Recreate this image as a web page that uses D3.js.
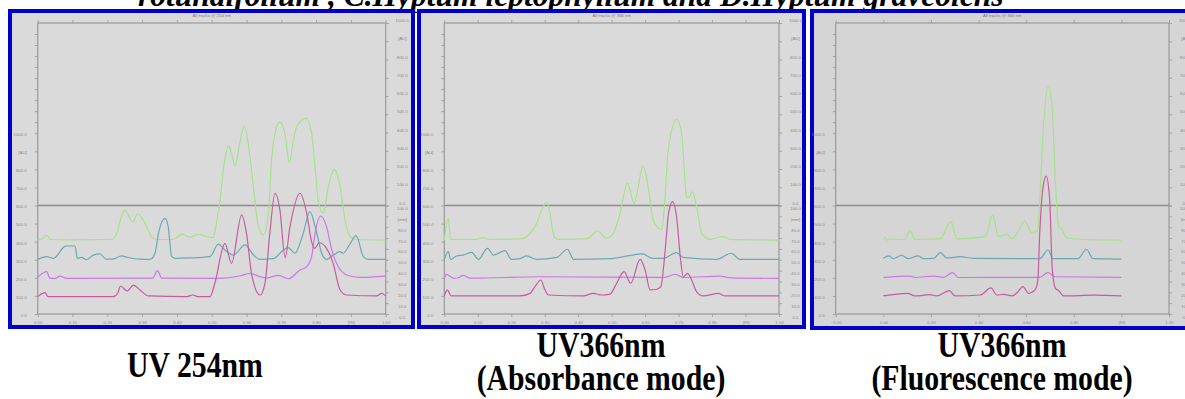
<!DOCTYPE html>
<html>
<head>
<meta charset="utf-8">
<script src="https://cdn.jsdelivr.net/npm/d3@7"></script>
<style>
  body { margin: 0; background: #fff; }
  svg { display: block; }
</style>
</head>
<body>
<script>
// ---- data: [Rf, AU] pairs (AU includes track offset) ----
var p1Green = [[0,410],[0.012,415],[0.026,437],[0.037,412],[0.07,410],[0.2,412],[0.216,415],[0.23,460],[0.239,530],[0.251,575],[0.262,540],[0.273,510],[0.287,553],[0.3,530],[0.313,483],[0.328,425],[0.342,412],[0.389,412],[0.417,442],[0.438,424],[0.46,440],[0.486,428],[0.504,422],[0.515,520],[0.524,630],[0.535,820],[0.548,931],[0.558,880],[0.567,820],[0.579,930],[0.594,1041],[0.61,870],[0.624,630],[0.634,483],[0.648,437],[0.663,557],[0.672,852],[0.682,1000],[0.696,1064],[0.711,990],[0.723,837],[0.734,950],[0.744,1036],[0.771,1082],[0.787,1000],[0.797,815],[0.806,630],[0.821,557],[0.835,703],[0.852,800],[0.869,704],[0.883,520],[0.897,430],[0.915,412],[1,409]];
var p1Teal = [[0,302],[0.026,317],[0.045,308],[0.05,312],[0.064,345],[0.074,369],[0.083,376],[0.107,376],[0.114,308],[0.126,313],[0.139,300],[0.16,326],[0.179,332],[0.196,304],[0.216,304],[0.241,321],[0.256,314],[0.294,303],[0.323,302],[0.337,336],[0.347,446],[0.366,529],[0.375,483],[0.385,317],[0.395,308],[0.438,310],[0.495,317],[0.519,386],[0.538,354],[0.562,326],[0.596,382],[0.62,326],[0.639,302],[0.677,306],[0.706,354],[0.72,367],[0.739,336],[0.763,446],[0.782,566],[0.802,446],[0.816,336],[0.83,302],[0.849,326],[0.869,345],[0.878,336],[0.895,380],[0.915,433],[0.936,317],[0.95,302],[1,302]];
var p1Violet = [[0,203],[0.026,234],[0.035,197],[0.05,197],[0.064,210],[0.083,197],[0.33,198],[0.344,240],[0.357,198],[0.52,197],[0.58,210],[0.61,225],[0.639,206],[0.658,200],[0.692,214],[0.72,195],[0.754,243],[0.773,262],[0.787,317],[0.797,446],[0.813,542],[0.83,483],[0.845,354],[0.859,280],[0.874,234],[0.897,210],[0.926,203],[1,210]];
var p1Pink = [[0,96],[0.021,118],[0.03,96],[0.217,96],[0.23,115],[0.238,155],[0.257,127],[0.275,160],[0.294,133],[0.318,100],[0.428,96],[0.445,105],[0.46,96],[0.495,96],[0.509,170],[0.538,391],[0.557,280],[0.586,548],[0.6,446],[0.615,216],[0.639,105],[0.653,170],[0.667,446],[0.682,668],[0.696,575],[0.711,311],[0.725,483],[0.754,668],[0.773,557],[0.787,400],[0.796,363],[0.809,394],[0.83,363],[0.849,280],[0.869,133],[0.888,105],[0.974,100],[0.988,114],[1,100]];

var p2Green = [[0,409],[0.012,529],[0.019,413],[0.097,413],[0.112,422],[0.137,413],[0.226,415],[0.256,446],[0.276,502],[0.291,575],[0.306,618],[0.316,557],[0.328,428],[0.34,413],[0.425,415],[0.458,459],[0.485,419],[0.505,446],[0.525,557],[0.547,723],[0.567,612],[0.594,819],[0.609,704],[0.624,520],[0.635,483],[0.65,468],[0.659,630],[0.669,907],[0.694,1077],[0.709,999],[0.724,649],[0.729,640],[0.741,676],[0.754,593],[0.769,446],[0.794,413],[0.832,428],[0.854,413],[1,409]];
var p2Teal = [[0,302],[0.012,345],[0.019,302],[0.037,321],[0.057,326],[0.082,341],[0.102,302],[0.129,363],[0.147,326],[0.167,341],[0.181,350],[0.201,302],[0.226,306],[0.246,321],[0.276,302],[0.336,313],[0.368,358],[0.386,302],[0.495,306],[0.547,321],[0.591,332],[0.624,308],[0.654,308],[0.694,339],[0.714,313],[0.814,302],[0.857,336],[0.884,302],[1,302]];
var p2Violet = [[0,197],[0.006,219],[0.03,197],[0.04,199],[0.057,214],[0.077,198],[0.286,206],[0.655,202],[0.691,219],[0.714,202],[0.824,210],[0.854,200],[1,197]];
var p2Pink = [[0,100],[0.009,133],[0.021,100],[0.226,100],[0.256,114],[0.271,151],[0.288,188],[0.301,133],[0.311,105],[0.415,100],[0.445,114],[0.47,105],[0.495,110],[0.515,170],[0.537,234],[0.557,170],[0.585,302],[0.6,243],[0.615,133],[0.635,137],[0.647,151],[0.66,354],[0.67,557],[0.682,621],[0.694,538],[0.706,299],[0.714,206],[0.727,225],[0.739,188],[0.754,123],[0.774,100],[0.819,114],[0.839,100],[1,100]];

var p3Green = [[0,409],[0.007,424],[0.016,409],[0.028,414],[0.091,412],[0.112,461],[0.133,413],[0.238,415],[0.284,511],[0.309,416],[0.428,428],[0.459,548],[0.484,428],[0.52,441],[0.541,416],[0.562,446],[0.593,514],[0.625,446],[0.639,455],[0.649,465],[0.657,630],[0.671,999],[0.693,1261],[0.709,1147],[0.723,723],[0.737,483],[0.751,465],[0.773,419],[0.842,413],[1,409]];
var p3Teal = [[0,308],[0.025,321],[0.042,306],[0.077,325],[0.105,306],[0.147,321],[0.168,306],[0.211,308],[0.239,339],[0.267,310],[0.323,317],[0.379,308],[0.657,306],[0.692,354],[0.713,306],[0.818,306],[0.853,358],[0.881,306],[1,304]];
var p3Violet = [[0,203],[0.112,210],[0.133,202],[0.211,210],[0.253,203],[0.291,229],[0.316,202],[0.657,203],[0.691,229],[0.723,206],[1,203]];
var p3Pink = [[0,100],[0.102,114],[0.133,100],[0.196,107],[0.225,100],[0.277,129],[0.302,100],[0.407,105],[0.452,144],[0.477,105],[0.505,108],[0.541,100],[0.562,118],[0.586,151],[0.611,114],[0.639,137],[0.649,188],[0.657,446],[0.671,704],[0.684,763],[0.699,630],[0.709,262],[0.723,142],[0.737,129],[0.758,100],[0.884,104],[1,100]];

var trackColors = ["#a6e28a", "#6aaaae", "#cb78e6", "#c65c9d"];
var plotTitles = ["All tracks @ 254 nm", "All tracks @ 366 nm", "All tracks @ 366 nm"];
var captions = [["UV 254nm"], ["UV366nm", "(Absorbance mode)"], ["UV366nm", "(Fluorescence mode)"]];
var rfTicksA = [0, 0.1, 0.2, 0.3, 0.4, 0.5, 0.6, 0.7, 0.8, 0.9, 1.0];
var rfTicksB = [-0.2, 0, 0.2, 0.4, 0.6, 0.8, 1.0, 1.2];
var headTitle = "rotundifolium , C.Hyptum leptophyllum and D.Hyptum graveolens";

// ---- layout ----
var W = 1185, H = 399;
var svg = d3.select("body").append("svg").attr("width", W).attr("height", H)
  .style("font-family", "Liberation Sans, Arial, sans-serif");

var panels = [
  { box: [8, 9, 415, 329], axL: 37.7, axR: 385.7, dom: [0, 1], ticks: rfTicksA, rfLabel: 0.9,
    tracks: [p1Green, p1Teal, p1Violet, p1Pink], bg: "#dadada" },
  { box: [417, 9, 806, 329], axL: 444.3, axR: 779, dom: [0, 1], ticks: rfTicksA, rfLabel: 0.9,
    tracks: [p2Green, p2Teal, p2Violet, p2Pink], bg: "#dadada" },
  { box: [810, 9, 1192, 330], axL: 835.7, axR: 1169, dom: [-0.2, 1.2], ticks: rfTicksB, rfLabel: 1.0,
    tracks: [p3Green, p3Teal, p3Violet, p3Pink], bg: "#d5d5d5" }
];
var yTop = 23, yBot = 314;
var axisCol = "#9a9a9a", labCol = "#8a8a8a";

// headline, cut off at the top of the figure (panels are drawn over its descenders)
svg.append("text")
  .attr("x", 138).attr("y", 6)
  .style("font-family", "Liberation Serif, Times New Roman, serif")
  .style("font-weight", "bold").style("font-style", "italic")
  .style("font-size", "31.5px")
  .text(headTitle);

panels.forEach(function(p, i) {
  var g = svg.append("g");
  var b = p.box;

  // blue frame + grey plot background
  g.append("rect")
    .attr("x", b[0] + 2).attr("y", b[1] + 2)
    .attr("width", b[2] - b[0] - 4).attr("height", b[3] - b[1] - 4)
    .attr("fill", p.bg).attr("stroke", "#0000c8").attr("stroke-width", 4);

  var x = d3.scaleLinear().domain(p.dom).range([p.axL, p.axR]);
  var yAU = d3.scaleLinear().domain([0, 1000]).range([yBot, yBot - 180.8]);   // left axis
  var ySep = yAU(600);
  var yUp = d3.scaleLinear().domain([0, 100]).range([yAU(1000), yTop]);       // left axis above 1000
  var yAUR = d3.scaleLinear().domain([0, 1000]).range([ySep, yTop]);          // right upper
  var yMM = d3.scaleLinear().domain([0, 100]).range([yBot, ySep]);            // right lower

  function fmtAU(d) { return d === 900 ? "[AU]" : d3.format(".1f")(d); }
  function fmtMM(d) { return d === 90 ? "[mm]" : d3.format(".1f")(d); }

  function style(sel) {
    sel.select(".domain").remove();
    sel.selectAll("line").attr("stroke", axisCol).attr("stroke-width", 0.8);
    sel.selectAll("text").attr("fill", labCol).style("font-size", "4.3px");
  }

  // bottom axis
  g.append("g").attr("transform", "translate(0," + yBot + ")")
    .call(d3.axisBottom(x).tickValues(p.ticks).tickSize(3).tickPadding(4)
      .tickFormat(function(d) { return Math.abs(d - p.rfLabel) < 1e-6 ? "[Rf]" : d3.format(".2f")(d); }))
    .call(style);
  // top axis
  g.append("g").attr("transform", "translate(0," + yTop + ")")
    .call(d3.axisTop(x).tickValues(p.ticks).tickSize(3).tickFormat(""))
    .call(style);
  // left axis
  g.append("g").attr("transform", "translate(" + p.axL + ",0)")
    .call(d3.axisLeft(yAU).tickValues(d3.range(0, 1001, 100)).tickSize(3).tickFormat(fmtAU))
    .call(style)
    .call(function(s) { s.selectAll("text").attr("x", -11).attr("dy", "0.55em"); });
  g.append("g").attr("transform", "translate(" + p.axL + ",0)")
    .call(d3.axisLeft(yUp).tickValues(d3.range(10, 100, 10)).tickSize(3).tickFormat(""))
    .call(style);
  // right axes
  g.append("g").attr("transform", "translate(" + p.axR + ",0)")
    .call(d3.axisRight(yAUR).tickValues(d3.range(0, 1001, 100)).tickSize(3).tickFormat(fmtAU))
    .call(style)
    .call(function(s) { s.selectAll("text").attr("x", 16.5).attr("text-anchor", "middle").attr("dy", "-0.3em"); });
  g.append("g").attr("transform", "translate(" + p.axR + ",0)")
    .call(d3.axisRight(yMM).tickValues(d3.range(0, 101, 10)).tickSize(3).tickFormat(fmtMM))
    .call(style)
    .call(function(s) { s.selectAll("text").attr("x", 16.5).attr("text-anchor", "middle").attr("dy", "0.95em"); });

  // plot frame and separator
  g.append("rect").attr("x", p.axL).attr("y", yTop)
    .attr("width", p.axR - p.axL).attr("height", yBot - yTop)
    .attr("fill", "none").attr("stroke", axisCol).attr("stroke-width", 1.2);
  g.append("line").attr("x1", p.axL).attr("x2", p.axR).attr("y1", ySep).attr("y2", ySep)
    .attr("stroke", "#8c8c8c").attr("stroke-width", 1.5);

  // title
  g.append("text").attr("x", (p.axL + p.axR) / 2).attr("y", 16.5)
    .attr("text-anchor", "middle").attr("fill", "#777").style("font-size", "4.3px")
    .text(plotTitles[i]);

  // tracks
  var line = d3.line()
    .x(function(d) { return x(d[0]); })
    .y(function(d) { return yAU(d[1]); })
    .curve(d3.curveMonotoneX);
  p.tracks.forEach(function(t, k) {
    g.append("path").datum(t)
      .attr("d", line)
      .attr("fill", "none")
      .attr("stroke", trackColors[k])
      .attr("stroke-width", 1.2)
      .attr("stroke-linejoin", "round");
  });

  // caption below the panel (tall, narrow bold serif)
  var cx = [195, 601, 1002][i];
  var cy = captions[i].length === 1 ? [377] : [357, 390];
  captions[i].forEach(function(c, j) {
    svg.append("text")
      .attr("transform", "translate(" + cx + "," + cy[j] + ") scale(0.85,1)")
      .attr("text-anchor", "middle")
      .style("font-family", "Liberation Serif, Times New Roman, serif")
      .style("font-weight", "bold").style("font-size", "35px")
      .text(c);
  });
});
</script>
</body>
</html>
